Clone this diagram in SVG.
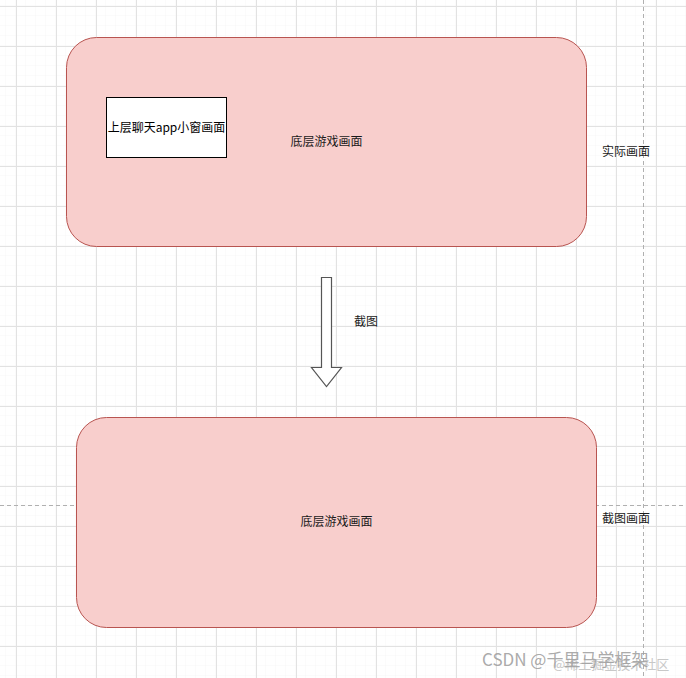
<svg xmlns="http://www.w3.org/2000/svg" width="686" height="678" viewBox="0 0 686 678">
  <defs>
    <pattern id="minor" x="6" y="6" width="10" height="10" patternUnits="userSpaceOnUse">
      <path d="M10 0V10M0 10H10" fill="none" stroke="#f6f6f6" stroke-width="1"/>
    </pattern>
    <pattern id="major" x="16" y="6" width="40" height="40" patternUnits="userSpaceOnUse">
      <path d="M0.5 0V40M0 0.5H40" fill="none" stroke="#e2e2e2" stroke-width="1"/>
    </pattern>
  </defs>
  <style>
    .lbl { font-family: "Noto Sans CJK SC", "Liberation Sans", sans-serif; font-size: 12px; fill: #1a1a1a; }
    .box { fill: #f8cecc; stroke: #b85450; stroke-width: 1; }
    .guide { stroke: #b0b0b0; stroke-width: 1; stroke-dasharray: 4 3; fill: none; }
  </style>
  <rect width="686" height="678" fill="#ffffff"/>
  <rect width="686" height="678" fill="url(#minor)"/>
  <rect width="686" height="678" fill="url(#major)"/>
  <g id="guides">
    <line class="guide" x1="643.5" y1="0" x2="643.5" y2="678"/>
    <line class="guide" x1="0" y1="505.5" x2="686" y2="505.5"/>
  </g>

  <g id="top-screen">
    <rect class="box" x="66.5" y="37.5" width="520" height="209" rx="30" ry="30"/>
    <text class="lbl" x="326.5" y="146" text-anchor="middle">底层游戏画面</text>
  </g>
  <g id="chat-window">
    <rect x="106.5" y="97.5" width="120" height="60" fill="#ffffff" stroke="#000000" stroke-width="1"/>
    <text class="lbl" x="166.5" y="132" text-anchor="middle" style="fill:#000">上层聊天app小窗画面</text>
  </g>
  <g id="label-actual">
    <text class="lbl" x="626" y="156" text-anchor="middle">实际画面</text>
  </g>

  <g id="connectors">
    <path d="M321.5 277.5 H331.5 V367.5 H341.5 L326.5 386.5 L311.5 367.5 H321.5 Z" fill="#ffffff" stroke="#555555" stroke-width="1.2" stroke-linejoin="miter"/>
    <text class="lbl" x="366" y="326" text-anchor="middle">截图</text>
  </g>

  <g id="bottom-screen">
    <rect class="box" x="76.5" y="417.5" width="520" height="210" rx="30" ry="30"/>
    <text class="lbl" x="336.5" y="526" text-anchor="middle">底层游戏画面</text>
  </g>
  <g id="label-capture">
    <text class="lbl" x="626" y="523" text-anchor="middle">截图画面</text>
  </g>

  <g id="watermark">
    <text x="553" y="669" font-family="Noto Sans CJK SC, Liberation Sans, sans-serif" font-size="13" fill="#c8c8c8">@稀土掘金技术社区</text>
    <text x="482" y="666" font-family="Noto Sans CJK SC, Liberation Sans, sans-serif" font-size="17" fill="#a0a0a0" fill-opacity="0.9">CSDN @千里马学框架</text>
  </g>
</svg>
